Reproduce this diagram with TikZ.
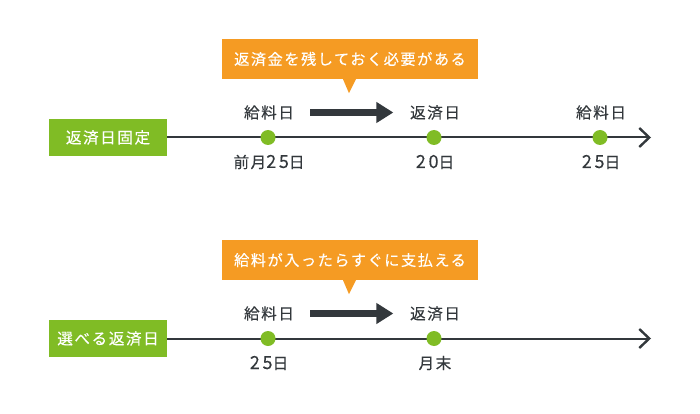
\documentclass[tikz,border=0pt]{standalone}
\usepackage{fontspec}
\setmainfont{Noto Sans CJK JP}[LetterSpace=10,FakeBold=0.25]
\newfontfamily\numfont{Noto Sans CJK JP}[LetterSpace=15,FakeBold=0.25]
\usetikzlibrary{arrows.meta}
\definecolor{barGreen}{HTML}{80BC25}
\definecolor{noteOrange}{HTML}{F59B23}
\definecolor{lineDark}{HTML}{33383C}
\newcommand{\daynum}[1]{{\numfont\fontsize{18}{18}\selectfont #1}}
\tikzset{
  rowlabel/.style={fill=barGreen,text=white,minimum width=118pt,minimum height=37pt,inner sep=0pt,font=\fontsize{15.6}{18}\selectfont},
  note/.style={fill=noteOrange,text=white,minimum width=256pt,minimum height=40pt,inner sep=0pt,font=\fontsize{15.2}{18}\selectfont},
  dot/.style={circle,fill=barGreen,minimum size=15pt,inner sep=0pt},
  caption/.style={text=lineDark,inner sep=0pt,font=\fontsize{15.6}{18}\selectfont},
  timeline/.style={draw=lineDark,line width=2pt,-{Straight Barb[length=10pt,width=19pt,line width=2.4pt]}},
  flow/.style={draw=lineDark,line width=7pt,-{Triangle[length=17pt,width=20pt]},shorten <=16pt,shorten >=16.5pt}
}
\begin{document}
\begin{tikzpicture}[x=1pt,y=-1pt]
      \useasboundingbox (0,0) rectangle (700,414);
      % fixed date
      \node[rowlabel] (fixed) at (108,137.5) {返済日固定};
      \coordinate (fixedend) at (651,137.5);
      \draw[timeline] (fixed) to (fixedend);
      \node[dot] (fixed1) at (268,137.5) {};
      \node[dot] (fixed2) at (434,137.5) {};
      \node[dot] (fixed3) at (600,137.5) {};
      \node[caption] (fixedpay) at (269,112.5) {給料日};
      \node[caption] (fixedrepay) at (435,112.5) {返済日};
      \node[caption] (fixednext) at (601,112.5) {給料日};
      \node[caption] (fixedday1) at (269,162) {前月\daynum{25}日};
      \node[caption] (fixedday2) at (435,162) {\daynum{20}日};
      \node[caption] (fixedday3) at (601,162) {\daynum{25}日};
      \draw[flow] (fixedpay) to (fixedrepay);
      \node[note] (fixednote) at (350,59) {返済金を残しておく必要がある};
      \fill[noteOrange] ([xshift=-7pt]fixednote.south) -- ([xshift=6pt]fixednote.south) -- ([xshift=-1pt,yshift=-14pt]fixednote.south) -- cycle;
      % free date
      \node[rowlabel] (free) at (108,338.5) {選べる返済日};
      \coordinate (freeend) at (651,338.5);
      \draw[timeline] (free) to (freeend);
      \node[dot] (free1) at (268,338.5) {};
      \node[dot] (free2) at (434,338.5) {};
      \node[caption] (freepay) at (269,313.5) {給料日};
      \node[caption] (freerepay) at (435,313.5) {返済日};
      \node[caption] (freeday1) at (269,363) {\daynum{25}日};
      \node[caption] (freeday2) at (435,363) {月末};
      \draw[flow] (freepay) to (freerepay);
      \node[note] (freenote) at (350,260) {給料が入ったらすぐに支払える};
      \fill[noteOrange] ([xshift=-7pt]freenote.south) -- ([xshift=6pt]freenote.south) -- ([xshift=-1pt,yshift=-14pt]freenote.south) -- cycle;
    \end{tikzpicture}
\end{document}
